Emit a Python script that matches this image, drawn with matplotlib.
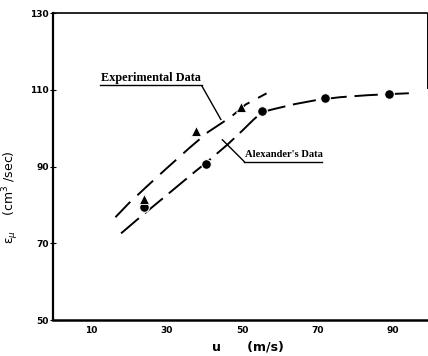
import numpy as np
import matplotlib.pyplot as plt

# datos
u_circ = [24, 40.5, 55.3, 72, 89]
eps_circ = [79.6, 90.8, 104.5, 107.9, 108.8]

u_tri = [24, 37.7, 49.7]
eps_tri = [81.6, 99.2, 105.5]

# curva "Experimental Data" (punteada superior)
u_exp = [16.5, 20, 25, 30, 36, 41, 47, 51, 56.5]
eps_exp = [76.8, 80.4, 85.0, 89.5, 94.8, 99.0, 102.9, 106.2, 109.1]

# curva "Alexander's Data" (inferior)
u_alex = [18, 23, 30, 37.7, 40.5, 46, 50, 53, 55.3, 58, 64, 70, 76, 83, 89, 96]
eps_alex = [72.6, 76.8, 82.5, 88.8, 91.0, 95.6, 99.3, 102.2, 104.2, 104.9, 106.3, 107.4,
            108.1, 108.6, 108.9, 109.2]

yticks = [50, 70, 90, 110, 130]
xticks = [10, 30, 50, 70, 90]

fig = plt.figure(figsize=(4.28, 3.56), dpi=100)
ax = fig.add_axes([0.124, 0.101, 0.874, 0.862])

ax.plot(u_exp, eps_exp, color='black', lw=1.4, dashes=(11, 5))
ax.plot(u_alex, eps_alex, color='black', lw=1.4, dashes=(12, 4))
ax.plot(u_circ, eps_circ, 'o', color='black', ms=7, mec='white', mew=0.8)
ax.plot(u_tri, eps_tri, '^', color='black', ms=7.5, mec='white', mew=0.6)

# etiquetas con subrayado y linea guia
fs = dict(family='Liberation Serif', weight='bold', color='black')
ax.text(12.6, 112.2, "Experimental Data", fontsize=8.8, ha='left', va='baseline', **fs)
ax.plot([12.3, 39.4], [111.4, 111.4], color='black', lw=1.0)
ax.plot([39.4, 44.4], [111.0, 102.3], color='black', lw=1.0)

ax.text(50.8, 92.4, "Alexander's Data", fontsize=7.6, ha='left', va='baseline', **fs)
ax.plot([50.6, 71.3], [91.3, 91.3], color='black', lw=1.0)
ax.plot([44.8, 50.6], [97.0, 91.3], color='black', lw=1.0)

ax.set_xlim(0, 99)
ax.set_ylim(50, 130)
ax.set_xticks(xticks)
ax.set_yticks(yticks)
ax.tick_params(axis='x', length=0, pad=4, labelsize=6.5)
ax.tick_params(axis='y', direction='inout', length=4, width=0.8, pad=1, labelsize=6.5)
for lab in ax.get_xticklabels() + ax.get_yticklabels():
    lab.set_fontweight('bold')

ax.spines['left'].set_linewidth(1.6)
ax.spines['bottom'].set_linewidth(1.8)
ax.spines['top'].set_linewidth(1.2)
ax.spines['right'].set_linewidth(0.7)
ax.spines['right'].set_bounds(110.5, 130)

ax.set_xlabel("u      (m/s)", fontsize=9, fontweight='bold')
ax.xaxis.set_label_coords(0.52, -0.068)
ax.set_ylabel(r"ε$_{\mu}$    (cm$^{3}$ /sec)", fontsize=9)
ax.yaxis.set_label_coords(-0.085, 0.40)

fig.savefig('out.png', dpi=100)
